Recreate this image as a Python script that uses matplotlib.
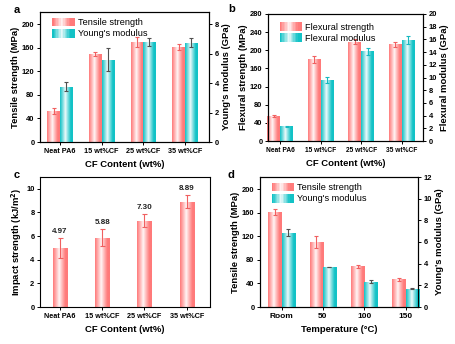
import numpy as np
import matplotlib
matplotlib.use("Agg")
import matplotlib.pyplot as plt
from matplotlib.legend_handler import HandlerBase
from matplotlib.patches import Rectangle
from matplotlib.colors import to_rgb

plt.rcParams['font.family'] = ['Liberation Sans', 'DejaVu Sans']
plt.rcParams['font.weight'] = 'bold'
plt.rcParams['axes.labelweight'] = 'bold'

# ---------------- data ----------------
cf_labels = ["Neat PA6", "15 wt%CF", "25 wt%CF", "35 wt%CF"]
temp_labels = ["Room", "50", "100", "150"]

a_tensile = [53, 150, 170, 161]
a_tensile_err = [5, 3, 9, 5]
a_young = [3.75, 5.6, 6.8, 6.75]
a_young_err = [0.3, 0.78, 0.25, 0.3]

b_flex_strength = [56, 180, 219, 213]
b_flex_strength_err = [2, 7, 5, 5]
b_flex_modulus = [2.3, 9.6, 14.1, 15.9]
b_flex_modulus_err = [0.1, 0.5, 0.5, 0.7]

c_impact = [4.97, 5.88, 7.30, 8.89]
c_impact_err = [0.85, 0.7, 0.55, 0.55]

d_tensile = [161, 111, 69, 47]
d_tensile_err = [5, 10, 3, 2]
d_young = [6.87, 3.7, 2.35, 1.7]
d_young_err = [0.3, 0.0, 0.12, 0.04]

PINK = "#ff7a7a"
CYAN = "#12c2c6"
PINK_ERR = "#f06060"
GRAY_ERR = "#505050"
CYAN_ERR = "#16b8c0"


def weight_profile(n=64):
    t = np.linspace(0, 1, n)
    w = np.abs(t - 0.42) / 0.42
    w = np.clip(w, 0, 1) ** 0.9
    w = 0.05 + 0.95 * w
    return np.clip(w, 0, 1)


def grad_image(color, n=64):
    c = np.array(to_rgb(color))
    w = weight_profile(n)
    img = (1 - w[:, None]) * np.ones(3)[None, :] + w[:, None] * c[None, :]
    return img[None, :, :]


def grad_bars(ax, x, h, width, color):
    bars = ax.bar(x, h, width, color='none', edgecolor='none', zorder=2)
    img = grad_image(color)
    for p in bars.patches:
        x0, y0 = p.get_x(), p.get_y()
        w, hh = p.get_width(), p.get_height()
        im = ax.imshow(img, extent=[x0, x0 + w, y0, y0 + hh], aspect='auto',
                       interpolation='bilinear', zorder=2)
        im.set_clip_path(p)
    return bars


class GradHandler(HandlerBase):
    def __init__(self, color):
        super().__init__()
        self.color = color

    def create_artists(self, legend, orig_handle, xdescent, ydescent, width,
                       height, fontsize, trans):
        n = 16
        c = np.array(to_rgb(self.color))
        w = weight_profile(n)
        arts = []
        for i in range(n):
            col = (1 - w[i]) * np.ones(3) + w[i] * c
            r = Rectangle((-xdescent + width * i / n, -ydescent), width / n + 0.3,
                          height, facecolor=col, edgecolor='none', transform=trans)
            arts.append(r)
        return arts


def style(ax, ls=5.4, xls=None):
    ax.tick_params(direction='out', length=2.5, width=0.7, labelsize=ls, pad=1.5)
    if xls is not None:
        ax.tick_params(axis='x', labelsize=xls)
    for s in ax.spines.values():
        s.set_linewidth(0.8)


def add_legend(ax, labels, colors, loc_xy):
    h1 = Rectangle((0, 0), 1, 1)
    h2 = Rectangle((0, 0), 1, 1)
    leg = ax.legend([h1, h2], labels, loc='upper left', bbox_to_anchor=loc_xy,
                    frameon=False, handlelength=2.4, handleheight=1.1,
                    handletextpad=0.4, labelspacing=0.2, borderaxespad=0.2,
                    handler_map={h1: GradHandler(colors[0]), h2: GradHandler(colors[1])},
                    prop={'weight': 'normal', 'size': 6.6})
    return leg


W, H = 456, 344
fig = plt.figure(figsize=(W / 100, H / 100), dpi=100)


def axes_px(l, t, r, b):
    return fig.add_axes([l / W, 1 - b / H, (r - l) / W, (b - t) / H])


LABEL_FS = 6.8
x = np.arange(4)

# ---------------- panel a ----------------
ax = axes_px(40, 12, 209, 142)
bw = 0.3
grad_bars(ax, x - bw / 2, a_tensile, bw, PINK)
ax.errorbar(x - bw / 2, a_tensile, yerr=a_tensile_err, fmt='none', ecolor=PINK_ERR,
            elinewidth=0.8, capsize=1.5, capthick=0.8, zorder=3)
ax.set_ylim(0, 221)
ax.set_xlim(-0.48, 3.58)
ax.set_yticks([0, 40, 80, 120, 160, 200])
ax.set_xticks(x)
ax.set_xticklabels(cf_labels)
ax.set_ylabel("Tensile strength (MPa)", fontsize=LABEL_FS, labelpad=1.5)
ax.set_xlabel("CF Content (wt%)", fontsize=LABEL_FS, labelpad=4)
ax2 = ax.twinx()
grad_bars(ax2, x + bw / 2, a_young, bw, CYAN)
ax2.errorbar(x + bw / 2, a_young, yerr=a_young_err, fmt='none', ecolor=GRAY_ERR,
             elinewidth=0.8, capsize=1.5, capthick=0.8, zorder=3)
ax2.set_ylim(0, 221 / 25.0)
ax2.set_yticks([0, 2, 4, 6, 8])
ax2.set_xlim(-0.48, 3.58)
ax2.set_ylabel("Young's modulus (GPa)", fontsize=LABEL_FS, labelpad=2)
style(ax, xls=5.2); style(ax2)
add_legend(ax2, ["Tensile strength", "Young's modulus"], [PINK, CYAN], (0.04, 1.0))
fig.text(14 / W, 1 - 10 / H, "a", fontsize=8, fontweight='bold', va='center')

# ---------------- panel b ----------------
ax = axes_px(268, 14, 423, 141)
bw = 0.32
xl = (-0.3, 3.52)
grad_bars(ax, x - bw / 2, b_flex_strength, bw, PINK)
ax.errorbar(x - bw / 2, b_flex_strength, yerr=b_flex_strength_err, fmt='none',
            ecolor=PINK_ERR, elinewidth=0.8, capsize=1.5, capthick=0.8, zorder=3)
ax.set_ylim(0, 280)
ax.set_xlim(*xl)
ax.set_yticks(np.arange(0, 281, 40))
ax.set_xticks(x)
ax.set_xticklabels(cf_labels)
ax.set_ylabel("Flexural strength (MPa)", fontsize=LABEL_FS, labelpad=1.5)
ax.set_xlabel("CF Content (wt%)", fontsize=LABEL_FS, labelpad=4)
ax2 = ax.twinx()
grad_bars(ax2, x + bw / 2, b_flex_modulus, bw, CYAN)
ax2.errorbar(x + bw / 2, b_flex_modulus, yerr=b_flex_modulus_err, fmt='none',
             ecolor=CYAN_ERR, elinewidth=0.8, capsize=1.5, capthick=0.8, zorder=3)
ax2.set_ylim(0, 20)
ax2.set_yticks(np.arange(0, 21, 2))
ax2.set_xlim(*xl)
ax2.set_ylabel("Flexural modulus (GPa)", fontsize=LABEL_FS, labelpad=2)
style(ax, xls=4.8); style(ax2)
add_legend(ax2, ["Flexural strength", "Flexural modulus"], [PINK, CYAN], (0.04, 0.98))
fig.text(228 / W, 1 - 9 / H, "b", fontsize=8, fontweight='bold', va='center')

# ---------------- panel c ----------------
ax = axes_px(40, 177, 210, 307)
bw = 0.34
grad_bars(ax, x, c_impact, bw, PINK)
ax.errorbar(x, c_impact, yerr=c_impact_err, fmt='none', ecolor=PINK_ERR,
            elinewidth=0.8, capsize=1.8, capthick=0.8, zorder=3)
for xi, v, e in zip(x, c_impact, c_impact_err):
    ax.text(xi, v + e + 0.25, f"{v:.2f}", ha='center', va='bottom', fontsize=5.8,
            fontweight='bold', color='#222222')
ax.set_ylim(0, 11)
ax.set_xlim(-0.47, 3.55)
ax.set_yticks(np.arange(0, 11, 2))
ax.set_xticks(x)
ax.set_xticklabels(cf_labels)
ax.set_ylabel("Impact strength (kJ/m$^\\mathbf{2}$)", fontsize=LABEL_FS, labelpad=1.5)
ax.set_xlabel("CF Content (wt%)", fontsize=LABEL_FS, labelpad=4)
style(ax, xls=5.2)
fig.text(14 / W, 1 - 175 / H, "c", fontsize=8, fontweight='bold', va='center')

# ---------------- panel d ----------------
ax = axes_px(260, 177, 418, 307)
bw = 0.32
xl = (-0.52, 3.3)
grad_bars(ax, x - bw / 2, d_tensile, bw, PINK)
ax.errorbar(x - bw / 2, d_tensile, yerr=d_tensile_err, fmt='none', ecolor=PINK_ERR,
            elinewidth=0.8, capsize=1.5, capthick=0.8, zorder=3)
ax.set_ylim(0, 221)
ax.set_xlim(*xl)
ax.set_yticks([0, 40, 80, 120, 160, 200])
ax.set_xticks(x)
ax.set_xticklabels(temp_labels)
ax.set_ylabel("Tensile strength (MPa)", fontsize=LABEL_FS, labelpad=1.5)
ax.set_xlabel("Temperature (°C)", fontsize=LABEL_FS, labelpad=4)
ax2 = ax.twinx()
grad_bars(ax2, x + bw / 2, d_young, bw, CYAN)
ax2.errorbar(x + bw / 2, d_young, yerr=d_young_err, fmt='none', ecolor=GRAY_ERR,
             elinewidth=0.8, capsize=1.5, capthick=0.8, zorder=3)
ax2.set_ylim(0, 12)
ax2.set_yticks(np.arange(0, 13, 2))
ax2.set_xlim(*xl)
ax2.set_ylabel("Young's modulus (GPa)", fontsize=LABEL_FS, labelpad=2)
style(ax, xls=6.0); style(ax2)
add_legend(ax2, ["Tensile strength", "Young's modulus"], [PINK, CYAN], (0.04, 1.0))
fig.text(228 / W, 1 - 175 / H, "d", fontsize=8, fontweight='bold', va='center')

fig.savefig("out.png", dpi=100)
